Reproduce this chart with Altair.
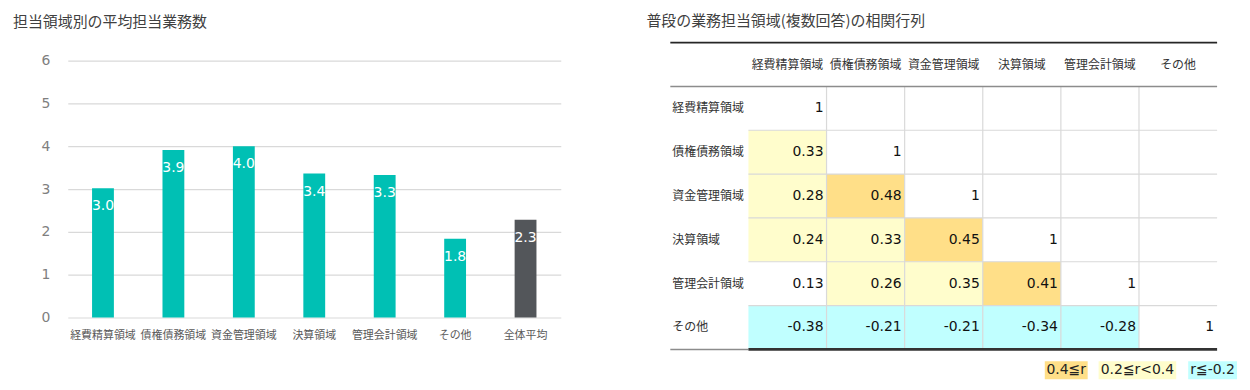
import altair as alt
import pandas as pd

JP = "Noto Sans CJK JP"
NUM = "DejaVu Sans, Noto Sans CJK JP"

# ---------------- data ----------------
bar_categories = ["経費精算領域", "債権債務領域", "資金管理領域", "決算領域", "管理会計領域", "その他", "全体平均"]
bar_values = [3.02, 3.91, 4.00, 3.36, 3.33, 1.84, 2.28]
bar_groups = ["領域", "領域", "領域", "領域", "領域", "領域", "全体"]

areas = ["経費精算領域", "債権債務領域", "資金管理領域", "決算領域", "管理会計領域", "その他"]
corr_rows = [
    [1],
    [0.33, 1],
    [0.28, 0.48, 1],
    [0.24, 0.33, 0.45, 1],
    [0.13, 0.26, 0.35, 0.41, 1],
    [-0.38, -0.21, -0.21, -0.34, -0.28, 1],
]
legend_labels = ["0.4≦r", "0.2≦r<0.4", "r≦-0.2"]
legend_classes = ["high", "mid", "neg"]

TEAL = "#00C0B4"
GREY = "#53565A"
ORANGE = "#FFDF88"
YELLOW = "#FFFDCC"
CYAN = "#C0FFFF"

# ---------------- left: bar chart ----------------
bar_df = pd.DataFrame({"category": bar_categories, "value": bar_values, "group": bar_groups})
ydom = alt.Scale(domain=[0, 6.419], nice=False, zero=True)
xb = alt.X("category:N", sort=bar_categories, title=None,
           scale=alt.Scale(paddingInner=0.69, paddingOuter=0.345),
           axis=alt.Axis(labelAngle=0, labelFontSize=11, labelColor="#595959", labelFont=JP,
                         ticks=False, domain=False, labelPadding=12))
yb = alt.Y("value:Q", title=None, scale=ydom,
           axis=alt.Axis(values=[0, 1, 2, 3, 4, 5, 6], grid=True, gridColor="#d9d9d9", gridWidth=1.2,
                         domain=False, ticks=False, labelPadding=18, labelFontSize=14,
                         labelColor="#7f7f7f", labelFont="DejaVu Sans", minExtent=55, maxExtent=55))
bars = alt.Chart(bar_df).mark_bar().encode(
    x=xb, y=yb,
    color=alt.Color("group:N", scale=alt.Scale(domain=["領域", "全体"], range=[TEAL, GREY]), legend=None),
)
bar_text = alt.Chart(bar_df).mark_text(color="white", fontSize=14, dy=18, baseline="middle",
                                       font="DejaVu Sans").encode(
    x=alt.X("category:N", sort=bar_categories), y=alt.Y("value:Q", scale=ydom),
    text=alt.Text("value:Q", format=".1f"),
)
left = alt.layer(bars, bar_text).properties(
    width=495, height=276,
    title=alt.TitleParams("担当領域別の平均担当業務数", anchor="start", fontSize=15, font=JP,
                          fontWeight="normal", color="#404040", offset=13),
)

# ---------------- right: correlation table ----------------
n = len(areas)
cells = []
for r, row in enumerate(corr_rows):
    for c, v in enumerate(row):
        if r == c:
            cls, lab = "none", "1"
        else:
            lab = f"{v:.2f}"
            if v >= 0.4:
                cls = "high"
            elif v >= 0.2:
                cls = "mid"
            elif v <= -0.2:
                cls = "neg"
            else:
                cls = "none"
        cells.append({"col": c + 1, "row": r + 1, "label": lab, "cls": cls})
cell_df = pd.DataFrame(cells)
cell_df["col2"] = cell_df["col"] + 1
cell_df["row2"] = cell_df["row"] + 1

xs = alt.Scale(domain=[0, n + 1], nice=False)
ys = alt.Scale(domain=[0, n + 1], nice=False, reverse=True)
fill_scale = alt.Scale(domain=["high", "mid", "neg", "none"], range=[ORANGE, YELLOW, CYAN, "#ffffff"])

cell_rect = alt.Chart(cell_df).mark_rect().encode(
    x=alt.X("col:Q", scale=xs, axis=None), x2="col2:Q",
    y=alt.Y("row:Q", scale=ys, axis=None), y2="row2:Q",
    color=alt.Color("cls:N", scale=fill_scale, legend=None),
)
cell_text = alt.Chart(cell_df).mark_text(align="right", baseline="middle", dx=-3, fontSize=14,
                                         font=NUM, color="#111111").encode(
    x=alt.X("col2:Q", scale=xs, axis=None),
    y=alt.Y("rowc:Q", scale=ys, axis=None),
    text="label:N",
).transform_calculate(rowc="datum.row + 0.5")

head_df = pd.DataFrame({"name": areas, "idx": list(range(1, n + 1))})
header_text = alt.Chart(head_df).mark_text(baseline="middle", fontSize=12, font=JP, color="#333333").encode(
    x=alt.X("xc:Q", scale=xs, axis=None),
    y=alt.Y("yc:Q", scale=ys, axis=None),
    text="name:N",
).transform_calculate(xc="datum.idx + 0.5", yc="0.5")
row_text = alt.Chart(head_df).mark_text(align="left", baseline="middle", dx=2, fontSize=12, font=JP,
                                        color="#333333").encode(
    x=alt.X("xc:Q", scale=xs, axis=None),
    y=alt.Y("yc:Q", scale=ys, axis=None),
    text="name:N",
).transform_calculate(xc="0", yc="datum.idx + 0.5")

# grid lines
vlines = pd.DataFrame({"x": list(range(2, n + 1)), "y": 1, "y2": n + 1})
hlines = pd.DataFrame({"y": list(range(2, n + 1)), "x": 1, "x2": n + 1})
v_rule = alt.Chart(vlines).mark_rule(color="#d9d9d9", strokeWidth=1.2).encode(
    x=alt.X("x:Q", scale=xs, axis=None), y=alt.Y("y:Q", scale=ys, axis=None), y2="y2:Q")
h_rule = alt.Chart(hlines).mark_rule(color="#d9d9d9", strokeWidth=1.2).encode(
    y=alt.Y("y:Q", scale=ys, axis=None), x=alt.X("x:Q", scale=xs, axis=None), x2="x2:Q")


def hrule(x0, x1, y, color, width):
    df = pd.DataFrame({"x": [x0], "x2": [x1], "y": [y]})
    return alt.Chart(df).mark_rule(color=color, strokeWidth=width).encode(
        x=alt.X("x:Q", scale=xs, axis=None), x2="x2:Q", y=alt.Y("y:Q", scale=ys, axis=None))


top_rule = hrule(0, n + 1, 0, "#262626", 2)
head_rule = hrule(0, n + 1, 1, "#8c8c8c", 1.5)
bot_rule_l = hrule(0, 1, n + 1, "#8c8c8c", 1.5)
bot_rule_r = hrule(1, n + 1, n + 1, "#333333", 2.8)

# legend boxes (placed below the table's right side)
leg_df = pd.DataFrame({"label": legend_labels, "cls": legend_classes})
leg_left = [4.794, 5.483, 6.630]
leg_right = [5.343, 6.477, 7.255]
leg_df["x"] = leg_left
leg_df["x2"] = leg_right
leg_df["xc"] = [(a + b) / 2 for a, b in zip(leg_left, leg_right)]
leg_df["y"] = n + 1.27
leg_df["y2"] = n + 1.68
leg_df["yc"] = n + 1.475
leg_rect = alt.Chart(leg_df).mark_rect().encode(
    x=alt.X("x:Q", scale=xs, axis=None), x2="x2:Q",
    y=alt.Y("y:Q", scale=ys, axis=None), y2="y2:Q",
    color=alt.Color("cls:N", scale=fill_scale, legend=None),
)
leg_text = alt.Chart(leg_df).mark_text(baseline="middle", fontSize=14, font=NUM, color="#222222").encode(
    x=alt.X("xc:Q", scale=xs, axis=None), y=alt.Y("yc:Q", scale=ys, axis=None), text="label:N")

right = alt.layer(cell_rect, v_rule, h_rule, cell_text, header_text, row_text,
                  top_rule, head_rule, bot_rule_l, bot_rule_r,
                  leg_rect, leg_text).properties(
    width=549, height=308,
    title=alt.TitleParams("普段の業務担当領域(複数回答)の相関行列", anchor="start", fontSize=15, font=JP,
                          fontWeight="normal", color="#404040", offset=13, dx=-23),
)

chart = alt.hconcat(left, right, spacing=86).resolve_scale(color="independent").configure(
    background="white").configure_view(stroke="transparent", strokeWidth=0)

chart.save("out.html", embed_options={"renderer": "svg", "actions": False})
